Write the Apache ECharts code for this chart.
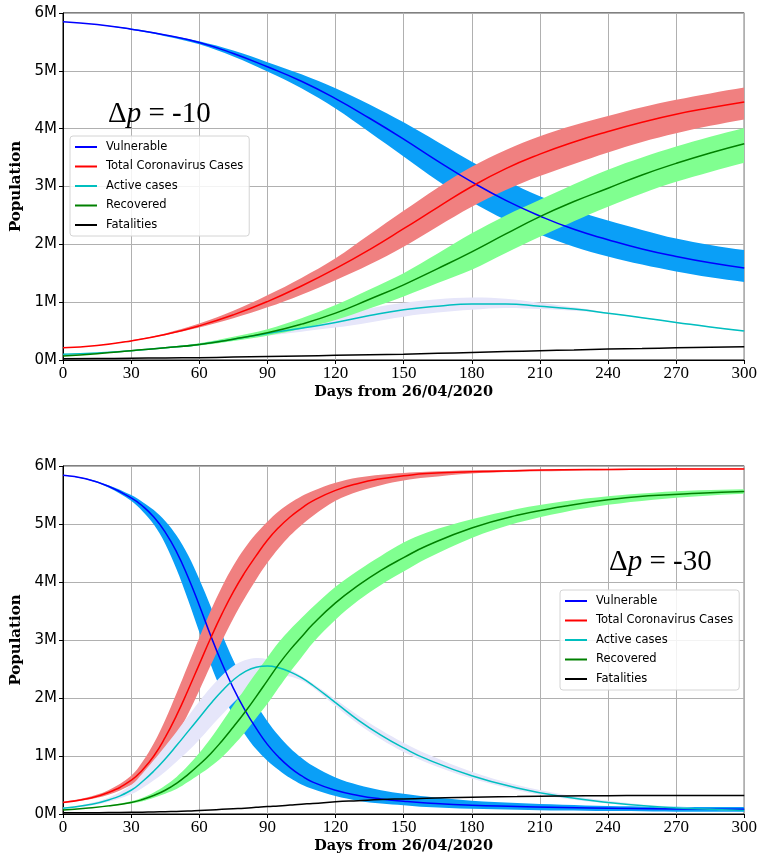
<!DOCTYPE html>
<html>
<head>
<meta charset="utf-8">
<script src="https://cdn.jsdelivr.net/npm/echarts@6/dist/echarts.min.js"></script>
<style>
html,body{margin:0;padding:0;background:#fff;}
#c{width:760px;height:859px;}
</style>
</head>
<body>
<div id="c"></div>
<script>
// ---------- DATA (values in millions) ----------
const seriesNames = ['Vulnerable', 'Total Coronavirus Cases', 'Active cases', 'Recovered', 'Fatalities'];
const xTicks = [0, 30, 60, 90, 120, 150, 180, 210, 240, 270, 300];
const yTicks = [0, 1, 2, 3, 4, 5, 6];

// Top panel: Δp = -10
const tDays = [0,15,30,45,60,75,90,105,120,135,150,165,180,195,210,225,240,255,270,285,300];
const tVul   = [5.85,5.80,5.72,5.62,5.49,5.30,5.07,4.82,4.52,4.18,3.82,3.44,3.08,2.76,2.49,2.26,2.08,1.92,1.79,1.68,1.59];
const tVulHi = [5.85,5.80,5.73,5.63,5.51,5.35,5.15,4.94,4.70,4.42,4.11,3.77,3.43,3.11,2.83,2.60,2.41,2.25,2.10,1.99,1.90];
const tVulLo = [5.85,5.80,5.71,5.60,5.46,5.25,4.99,4.70,4.35,3.94,3.52,3.10,2.73,2.42,2.17,1.96,1.79,1.65,1.53,1.43,1.35];
const tTot   = [0.21,0.25,0.33,0.44,0.59,0.78,1.01,1.28,1.58,1.91,2.27,2.64,3.00,3.31,3.56,3.77,3.95,4.11,4.25,4.36,4.46];
const tTotHi = [0.21,0.25,0.34,0.46,0.63,0.85,1.12,1.42,1.76,2.17,2.58,2.98,3.34,3.63,3.87,4.06,4.22,4.37,4.50,4.61,4.71];
const tTotLo = [0.21,0.25,0.33,0.43,0.56,0.72,0.91,1.13,1.38,1.65,1.96,2.31,2.65,2.94,3.18,3.39,3.59,3.77,3.92,4.05,4.16];
const tAct   = [0.10,0.12,0.16,0.21,0.27,0.36,0.46,0.55,0.65,0.77,0.87,0.93,0.97,0.97,0.93,0.88,0.81,0.73,0.65,0.57,0.50];
const tActHi = [0.10,0.12,0.16,0.22,0.28,0.38,0.50,0.62,0.75,0.89,0.99,1.05,1.08,1.06,0.99,0.91,0.82,0.74,0.66,0.58,0.51];
const tActLo = [0.10,0.12,0.16,0.20,0.26,0.34,0.42,0.49,0.56,0.65,0.75,0.82,0.87,0.90,0.88,0.85,0.80,0.72,0.64,0.56,0.49];
const tRec   = [0.07,0.11,0.16,0.21,0.27,0.36,0.47,0.62,0.81,1.05,1.30,1.58,1.87,2.18,2.48,2.74,2.97,3.20,3.40,3.58,3.74];
const tRecHi = [0.07,0.11,0.16,0.22,0.29,0.40,0.53,0.72,0.95,1.22,1.50,1.84,2.19,2.50,2.77,3.04,3.29,3.50,3.69,3.86,4.01];
const tRecLo = [0.07,0.11,0.16,0.20,0.25,0.33,0.42,0.54,0.69,0.89,1.10,1.33,1.56,1.85,2.13,2.40,2.65,2.88,3.08,3.25,3.41];
const tFat   = [0.02,0.025,0.03,0.035,0.04,0.05,0.06,0.07,0.08,0.09,0.10,0.115,0.13,0.145,0.16,0.175,0.19,0.20,0.21,0.22,0.23];

// Bottom panel: Δp = -30
const bDays = [0,10,20,30,35,40,45,50,55,60,65,70,75,80,85,90,95,100,105,110,120,130,140,150,160,180,200,220,240,260,280,300];
const bVul   = [5.84,5.78,5.65,5.45,5.31,5.12,4.86,4.52,4.09,3.60,3.08,2.60,2.17,1.80,1.48,1.20,0.98,0.80,0.66,0.55,0.41,0.32,0.26,0.22,0.19,0.15,0.13,0.11,0.10,0.09,0.085,0.08];
const bVulHi = [5.84,5.79,5.67,5.50,5.38,5.24,5.05,4.80,4.47,4.05,3.58,3.10,2.65,2.25,1.90,1.60,1.35,1.14,0.97,0.83,0.63,0.50,0.41,0.35,0.30,0.23,0.19,0.16,0.14,0.13,0.12,0.12];
const bVulLo = [5.84,5.77,5.63,5.40,5.22,4.99,4.66,4.22,3.70,3.14,2.58,2.10,1.70,1.38,1.12,0.92,0.76,0.62,0.51,0.43,0.31,0.23,0.18,0.15,0.12,0.09,0.075,0.06,0.05,0.045,0.04,0.04];
const bTot   = [0.20,0.26,0.37,0.58,0.76,1.00,1.32,1.70,2.13,2.58,3.03,3.45,3.83,4.16,4.45,4.72,4.94,5.12,5.27,5.40,5.58,5.70,5.78,5.83,5.87,5.90,5.92,5.935,5.94,5.945,5.95,5.95];
const bTotHi = [0.21,0.28,0.41,0.66,0.90,1.22,1.62,2.08,2.56,3.04,3.50,3.92,4.28,4.58,4.83,5.04,5.22,5.36,5.48,5.57,5.71,5.80,5.85,5.88,5.90,5.925,5.935,5.945,5.95,5.955,5.955,5.96];
const bTotLo = [0.19,0.24,0.33,0.50,0.64,0.82,1.06,1.36,1.72,2.13,2.56,2.98,3.37,3.72,4.04,4.33,4.58,4.80,4.98,5.14,5.40,5.56,5.67,5.75,5.80,5.87,5.90,5.915,5.925,5.935,5.94,5.945];
const bAct   = [0.10,0.15,0.24,0.41,0.56,0.74,0.95,1.18,1.42,1.66,1.90,2.12,2.31,2.45,2.53,2.55,2.52,2.45,2.35,2.22,1.92,1.62,1.36,1.14,0.95,0.66,0.45,0.30,0.20,0.13,0.09,0.06];
const bActHi = [0.11,0.17,0.28,0.50,0.70,0.93,1.17,1.42,1.68,1.94,2.18,2.39,2.55,2.65,2.69,2.67,2.60,2.50,2.38,2.25,1.98,1.70,1.45,1.23,1.04,0.73,0.50,0.34,0.23,0.15,0.10,0.07];
const bActLo = [0.09,0.13,0.21,0.34,0.45,0.58,0.73,0.90,1.08,1.28,1.50,1.71,1.92,2.10,2.24,2.34,2.38,2.37,2.30,2.18,1.86,1.55,1.29,1.07,0.89,0.61,0.41,0.27,0.18,0.12,0.08,0.05];
const bRec   = [0.07,0.10,0.14,0.20,0.25,0.32,0.41,0.53,0.68,0.85,1.04,1.26,1.50,1.75,2.02,2.30,2.58,2.83,3.05,3.27,3.64,3.94,4.20,4.42,4.62,4.93,5.15,5.30,5.42,5.49,5.53,5.56];
const bRecHi = [0.07,0.10,0.15,0.22,0.28,0.37,0.49,0.64,0.83,1.05,1.30,1.58,1.87,2.15,2.43,2.70,2.96,3.18,3.38,3.57,3.92,4.20,4.45,4.68,4.85,5.08,5.26,5.39,5.48,5.54,5.58,5.60];
const bRecLo = [0.07,0.10,0.13,0.18,0.22,0.28,0.35,0.43,0.55,0.68,0.82,0.98,1.18,1.40,1.65,1.90,2.18,2.45,2.70,2.95,3.35,3.68,3.95,4.18,4.40,4.76,5.02,5.20,5.33,5.42,5.48,5.52];
const bFat   = [0.02,0.02,0.025,0.03,0.032,0.035,0.04,0.045,0.05,0.06,0.07,0.08,0.09,0.10,0.115,0.13,0.14,0.155,0.17,0.18,0.21,0.23,0.25,0.26,0.27,0.29,0.30,0.31,0.315,0.32,0.32,0.32];

const panelLabels = ['-10', '-30'];

// ---------- STYLE ----------
const lineColors = ['#0000ff', '#ff0000', '#00bfbf', '#008000', '#000000'];
const bandColors = ['#0a9ff7', '#f08080', '#e6e6fa', '#80ff90'];

function pairs(days, vals) { return days.map((d, i) => [d, vals[i]]); }

function bandSeries(g, days, hi, lo, color) {
  return {
    type: 'custom', xAxisIndex: g, yAxisIndex: g, silent: true, z: 1, animation: false,
    data: [[days[0], lo[0]]],
    encode: { x: 0, y: 1 },
    renderItem: function (params, api) {
      const upper = days.map((d, i) => api.coord([d, hi[i]]));
      const lower = days.map((d, i) => api.coord([d, lo[i]])).reverse();
      // repeat the corner points so the closing edges stay sharp
      const pts = [upper[0]].concat(upper, [upper[upper.length - 1]], [lower[0]], lower, [lower[lower.length - 1]]);
      const cs = params.coordSys;
      return {
        type: 'group',
        clipPath: { type: 'rect', shape: { x: cs.x, y: cs.y, width: cs.width, height: cs.height } },
        children: [{
          type: 'polygon',
          shape: { points: pts, smooth: 0.35 },
          style: { fill: color, stroke: null }
        }]
      };
    }
  };
}

function panelSeries(g, days, mains, his, los) {
  const out = [];
  for (let k = 0; k < 4; k++) out.push(bandSeries(g, days, his[k], los[k], bandColors[k]));
  for (let k = 0; k < 5; k++) {
    out.push({
      type: 'line', name: seriesNames[k], xAxisIndex: g, yAxisIndex: g,
      data: pairs(days, mains[k]), symbol: 'none', smooth: 0.5,
      color: lineColors[k], lineStyle: { width: 1.5, color: lineColors[k] },
      z: 3, animation: false
    });
  }
  return out;
}

const series = [].concat(
  panelSeries(0, tDays, [tVul, tTot, tAct, tRec, tFat], [tVulHi, tTotHi, tActHi, tRecHi], [tVulLo, tTotLo, tActLo, tRecLo]),
  panelSeries(1, bDays, [bVul, bTot, bAct, bRec, bFat], [bVulHi, bTotHi, bActHi, bRecHi], [bVulLo, bTotLo, bActLo, bRecLo])
);

function xAxis(g) {
  return {
    gridIndex: g, type: 'value', min: xTicks[0], max: xTicks[xTicks.length - 1], interval: 30,
    axisLine: { onZero: false, lineStyle: { color: '#000', width: 1 } },
    axisTick: { show: true, length: 4, lineStyle: { color: '#000' } },
    axisLabel: { fontFamily: 'Liberation Serif', fontSize: 17, color: '#000', margin: 5 },
    splitLine: { show: true, lineStyle: { color: '#b0b0b0', width: 1 } },
    name: 'Days from 26/04/2020', nameLocation: 'middle', nameGap: 25,
    nameTextStyle: { fontFamily: 'DejaVu Serif', fontWeight: 'bold', fontSize: 14.5, color: '#000' }
  };
}
function yAxis(g) {
  return {
    gridIndex: g, type: 'value', min: yTicks[0], max: yTicks[yTicks.length - 1], interval: 1,
    axisLine: { show: true, lineStyle: { color: '#000', width: 1 } },
    axisTick: { show: true, length: 4, lineStyle: { color: '#000' } },
    axisLabel: { fontFamily: 'DejaVu Sans', fontSize: 15, color: '#000', margin: 6, formatter: '{value}M' },
    splitLine: { show: true, lineStyle: { color: '#b0b0b0', width: 1 } },
    name: 'Population', nameLocation: 'middle', nameRotate: 90, nameGap: 29,
    nameTextStyle: { fontFamily: 'DejaVu Serif', fontWeight: 'bold', fontSize: 15, color: '#000' }
  };
}
function legend(left, top) {
  return {
    data: seriesNames.map(n => ({ name: n, icon: 'rect' })),
    orient: 'vertical', left: left, top: top,
    itemWidth: 22, itemHeight: 2, itemGap: 7.5,
    padding: [5, 6, 5, 5],
    backgroundColor: 'rgba(255,255,255,0.85)', borderColor: '#d4d4d4', borderWidth: 1, borderRadius: 3,
    textStyle: { fontFamily: 'DejaVu Sans', fontSize: 11.5, color: '#000', lineHeight: 12, padding: [0, 0, 0, 4] },
    selectedMode: false
  };
}
function title(label, left, top) {
  return {
    text: '{d|Δ}{p|p}{d| = ' + label + '}', left: left, top: top, padding: 0,
    textStyle: {
      fontWeight: 'normal',
      rich: {
        d: { fontFamily: 'Liberation Serif', fontWeight: 'normal', fontSize: 29, color: '#000' },
        p: { fontFamily: 'Liberation Serif', fontWeight: 'normal', fontStyle: 'italic', fontSize: 29, color: '#000' }
      }
    }
  };
}

const option = {
  backgroundColor: '#fff',
  animation: false,
  title: [title(panelLabels[0], 108, 100), title(panelLabels[1], 609, 548)],
  legend: [legend(70, 136), legend(560, 590)],
  grid: [
    { left: 63, top: 13, width: 683, height: 347, show: true, borderColor: '#000', borderWidth: 1, backgroundColor: 'transparent' },
    { left: 63, top: 466, width: 683, height: 348, show: true, borderColor: '#000', borderWidth: 1, backgroundColor: 'transparent' }
  ],
  xAxis: [xAxis(0), xAxis(1)],
  yAxis: [yAxis(0), yAxis(1)],
  series: series
};

const chart = echarts.init(document.getElementById('c'), null, { renderer: 'canvas' });
chart.setOption(option);
</script>
</body>
</html>
